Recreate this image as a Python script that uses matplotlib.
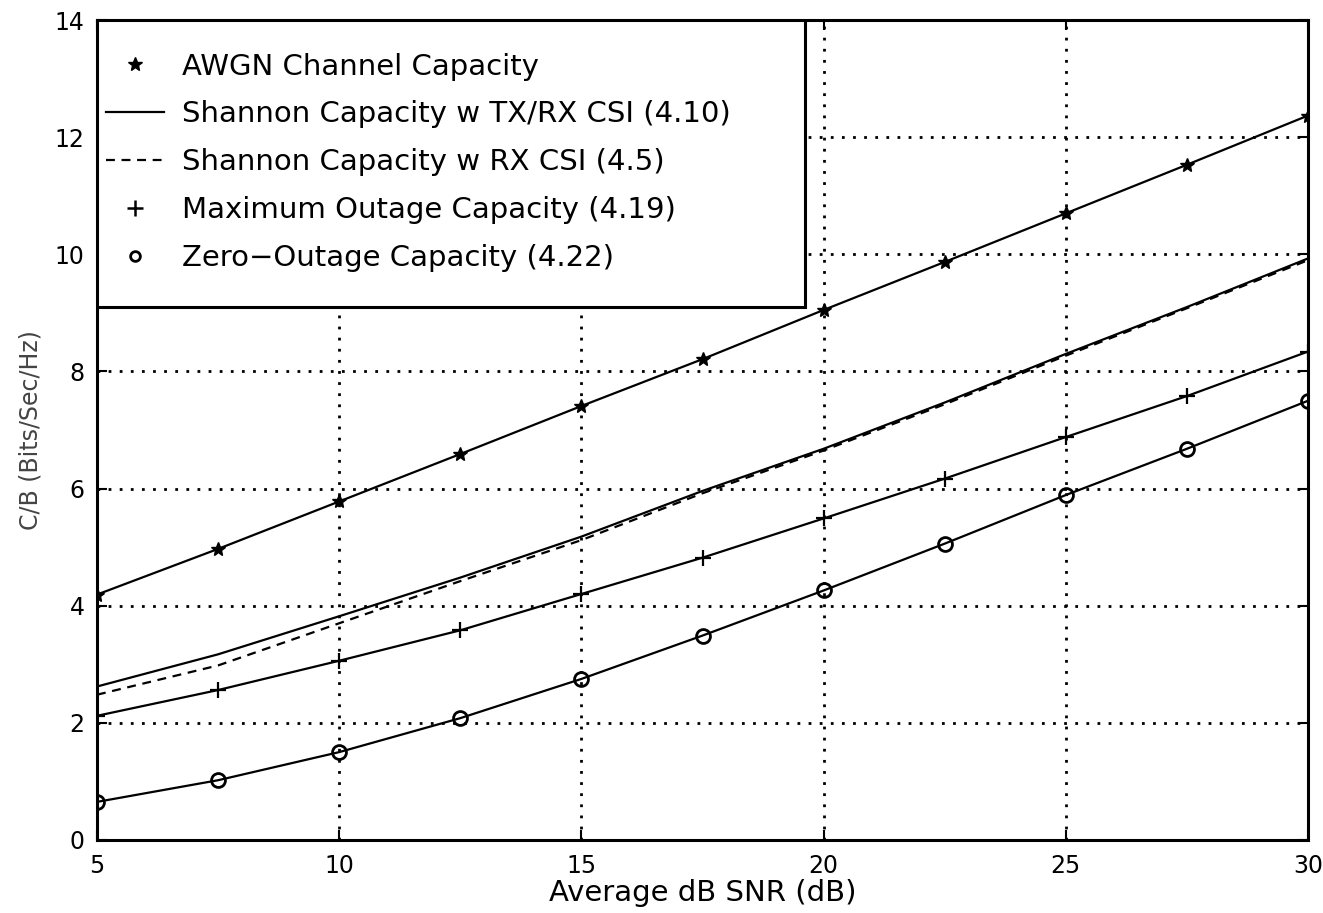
import matplotlib
matplotlib.use("Agg")
import matplotlib.pyplot as plt
from matplotlib.lines import Line2D
from matplotlib.patches import Rectangle

# valores (SNR media em dB)
snr = [5, 7.5, 10, 12.5, 15, 17.5, 20, 22.5, 25, 27.5, 30]
cap_awgn = [4.19, 4.97, 5.78, 6.59, 7.41, 8.21, 9.05, 9.87, 10.70, 11.53, 12.37]
cap_txrx = [2.62, 3.17, 3.82, 4.48, 5.18, 5.96, 6.68, 7.47, 8.30, 9.10, 9.93]
cap_rx = [2.48, 2.98, 3.70, 4.42, 5.12, 5.92, 6.65, 7.44, 8.27, 9.08, 9.90]
cap_outage = [2.12, 2.56, 3.06, 3.58, 4.20, 4.82, 5.49, 6.17, 6.88, 7.58, 8.34]
cap_zero = [0.65, 1.02, 1.50, 2.08, 2.75, 3.49, 4.26, 5.06, 5.89, 6.68, 7.50]

legendas = ["AWGN Channel Capacity",
            "Shannon Capacity w TX/RX CSI (4.10)",
            "Shannon Capacity w RX CSI (4.5)",
            "Maximum Outage Capacity (4.19)",
            "Zero\u2212Outage Capacity (4.22)"]
xticks = [5, 10, 15, 20, 25, 30]
yticks = [0, 2, 4, 6, 8, 10, 12, 14]

plt.rcParams['font.family'] = ['DejaVu Sans']

fig = plt.figure(figsize=(13.23, 9.13), dpi=100)
ax = fig.add_axes([0.0733, 0.080, 0.9154, 0.898])

cor = 'black'
lw = 1.6
ax.plot(snr, cap_awgn, '-', color=cor, lw=lw, marker='*', ms=10, zorder=2)
ax.plot(snr, cap_txrx, '-', color=cor, lw=lw, zorder=2)
ax.plot(snr, cap_rx, color=cor, lw=lw, linestyle=(0, (4, 3)), zorder=2)
ax.plot(snr, cap_outage, '-', color=cor, lw=lw, marker='+', ms=11, mew=1.6, zorder=2)
ax.plot(snr, cap_zero, '-', color=cor, lw=lw, marker='o', ms=10, mew=2, mfc='none', zorder=2)

ax.set_xlim(5, 30)
ax.set_ylim(0, 14)
ax.set_xticks(xticks)
ax.set_yticks(yticks)
ax.grid(True, color='black', linestyle=(0, (1, 3)), linewidth=2)
ax.set_axisbelow(True)
ax.tick_params(direction='in', length=7, width=1.5, labelsize=17,
               top=True, right=True)
ax.tick_params(axis='x', pad=10)
ax.tick_params(axis='y', pad=9)
for s in ax.spines.values():
    s.set_linewidth(2.2)

ax.set_xlabel('Average dB SNR (dB)', fontsize=21, labelpad=1)
ax.set_ylabel('C/B (Bits/Sec/Hz)', fontsize=17, color='#444444', labelpad=9)

# caixa da legenda (opaca, esconde a grade)
caixa = Rectangle((0, 0.650), 0.585, 0.350, transform=ax.transAxes,
                  facecolor='white', edgecolor='black', lw=2.2, zorder=3)
ax.add_patch(caixa)

handles = [
    Line2D([], [], color=cor, linestyle='none', marker='*', ms=10),
    Line2D([], [], color=cor, lw=lw, linestyle='-'),
    Line2D([], [], color=cor, lw=lw, linestyle=(0, (4, 3))),
    Line2D([], [], color=cor, linestyle='none', marker='+', ms=11, mew=1.8),
    Line2D([], [], color=cor, linestyle='none', marker='o', ms=7, mew=2, mfc='none'),
]
leg = ax.legend(handles, legendas, loc='upper left', bbox_to_anchor=(0.0, 0.971),
                frameon=False, fontsize=21, handlelength=2.0, handletextpad=0.62,
                labelspacing=0.68, borderaxespad=0.0, borderpad=0.3)
leg.set_zorder(4)

fig.savefig('out.png', dpi=100)
